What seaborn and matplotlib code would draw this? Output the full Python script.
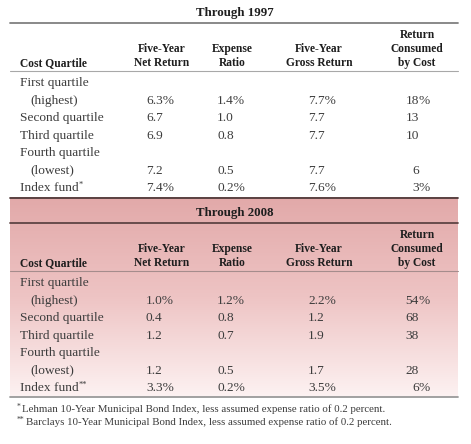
import numpy as np
import matplotlib
matplotlib.use("Agg")
import matplotlib.pyplot as plt
import seaborn as sns
from matplotlib.colors import LinearSegmentedColormap

# ------------------------------------------------------------
# Data
# ------------------------------------------------------------
quartiles = ["First quartile", "Second quartile", "Third quartile",
             "Fourth quartile", "Index fund"]
sublabels = ["(highest)", None, None, "(lowest)", None]
footmarks = ["*", "**"]

headers = ["Five-Year\nNet Return", "Expense\nRatio", "Five-Year\nGross Return",
           "Return\nConsumed\nby Cost"]

periods = ["Through 1997", "Through 2008"]

net_1997 = [6.3, 6.7, 6.9, 7.2, 7.4]
expense_1997 = [1.4, 1.0, 0.8, 0.5, 0.2]
gross_1997 = [7.7, 7.7, 7.7, 7.7, 7.6]
consumed_1997 = [18, 13, 10, 6, 3]

net_2008 = [1.0, 0.4, 1.2, 1.2, 3.3]
expense_2008 = [1.2, 0.8, 0.7, 0.5, 0.2]
gross_2008 = [2.2, 1.2, 1.9, 1.7, 3.5]
consumed_2008 = [54, 68, 38, 28, 6]

footnotes = [
    "Lehman 10-Year Municipal Bond Index, less assumed expense ratio of 0.2 percent.",
    "Barclays 10-Year Municipal Bond Index, less assumed expense ratio of 0.2 percent.",
]

# ------------------------------------------------------------
# Style
# ------------------------------------------------------------
sns.set_theme(style="white")
plt.rcParams['font.family'] = ['Liberation Serif', 'DejaVu Serif']

BODY = "#3c3c3c"
HEAD = "#1e1e1e"
BODY_FS = 9.6
HEAD_FS = 8.3

fig = plt.figure(figsize=(4.71, 4.44), dpi=100)
ax = fig.add_axes([0, 0, 1, 1])
ax.set_xlim(0, 471)
ax.set_ylim(444, 0)
ax.axis("off")

X_LEFT, X_RIGHT = 10, 458
X_LABEL, X_INDENT = 20, 30
X_NET, X_EXP, X_GROSS, X_CONS = 146, 217, 308, 419
HDR_X = [162, 232, 319, 417]
ROW_STEP = 17.5

# pink gradient behind the 2008 block
pink = LinearSegmentedColormap.from_list("pink", ["#e2a9a9", "#eec4c4", "#fdf2f2"])
ax.imshow(np.linspace(0, 1, 256).reshape(-1, 1), cmap=pink, aspect="auto",
          extent=(X_LEFT, X_RIGHT, 397, 198), zorder=0)


def pct(v, first_or_last, fmt="{:.1f}"):
    s = fmt.format(v)
    return s + "%" if first_or_last else s


def draw_section(top, title, net, exp, gross, cons, mark, shaded):
    # title and rules
    ax.text(235, top + 16, title, ha="center", va="baseline", fontsize=9.3,
            fontweight="bold", color=HEAD)
    rule_col = "#5e4444" if shaded else "#808080"
    if shaded:
        ax.plot([X_LEFT, X_RIGHT], [top - 2, top - 2], color="#4f3a3a", lw=1.3)
    ax.plot([X_LEFT, X_RIGHT], [top + 23, top + 23], color=rule_col, lw=1.3)
    ax.plot([X_LEFT, X_RIGHT], [top + 71, top + 71],
            color="#a58c8c" if shaded else "#a8a8a8", lw=0.8)

    # headers (bottom-aligned multi-line)
    ax.text(X_LABEL, top + 66, "Cost Quartile", ha="left", va="baseline",
            fontsize=HEAD_FS, fontweight="bold", color=HEAD)
    for hx, h in zip(HDR_X, headers):
        ax.text(hx, top + 66, h, ha="center", va="baseline", fontsize=HEAD_FS,
                fontweight="bold", color=HEAD, linespacing=1.25,
                multialignment="center")

    # rows
    y = top + 86
    n = len(quartiles)
    for i, q in enumerate(quartiles):
        edge = i == 0 or i == n - 1
        lab = ax.text(X_LABEL, y, q, ha="left", va="baseline",
                      fontsize=BODY_FS, color=BODY)
        if i == n - 1:
            ax.annotate(mark, xy=(1, 1), xycoords=lab, xytext=(0.3, 0.5),
                        textcoords="offset points", ha="left", va="top",
                        fontsize=6, color=BODY)
        if sublabels[i] is not None:
            y += ROW_STEP
            ax.text(X_INDENT, y, sublabels[i], ha="left", va="baseline",
                    fontsize=BODY_FS, color=BODY)
        ax.text(X_NET, y, pct(net[i], edge), ha="left", va="baseline",
                fontsize=BODY_FS, color=BODY)
        ax.text(X_EXP, y, pct(exp[i], edge), ha="left", va="baseline",
                fontsize=BODY_FS, color=BODY)
        ax.text(X_GROSS, y, pct(gross[i], edge), ha="left", va="baseline",
                fontsize=BODY_FS, color=BODY)
        ax.text(X_CONS, y, "{:d}".format(cons[i]), ha="right", va="baseline",
                fontsize=BODY_FS, color=BODY)
        if edge:
            ax.text(X_CONS - 0.5, y, "%", ha="left", va="baseline",
                    fontsize=BODY_FS, color=BODY)
        y += ROW_STEP


draw_section(0, periods[0], net_1997, expense_1997, gross_1997, consumed_1997,
             footmarks[0], False)
draw_section(200, periods[1], net_2008, expense_2008, gross_2008, consumed_2008,
             footmarks[1], True)

# bottom rule and footnotes
ax.plot([X_LEFT, X_RIGHT], [397, 397], color="#9a9a9a", lw=1.3)
for k, (m, note) in enumerate(zip(footmarks, footnotes)):
    fy = 412 + 13 * k
    ax.text(17, fy - 3, m, ha="left", va="baseline", fontsize=5.5, color=BODY)
    ax.text(22 + 4 * k, fy, note, ha="left", va="baseline", fontsize=7.8,
            color=BODY)

fig.savefig("out.png", dpi=100)
